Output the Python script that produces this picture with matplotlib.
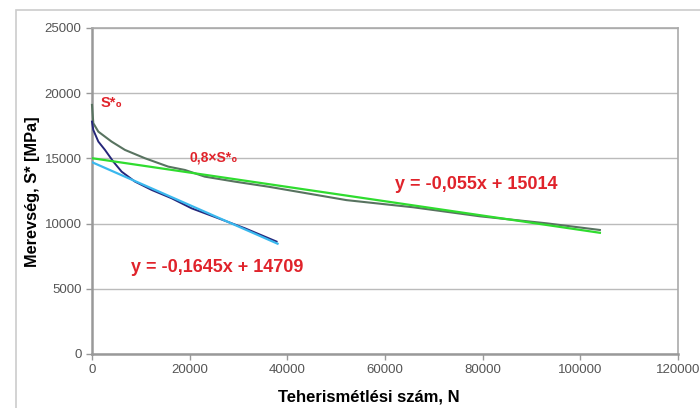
import matplotlib
matplotlib.use('Agg')
import matplotlib.pyplot as plt
from matplotlib.patches import Rectangle
import numpy as np

plt.rcParams['font.family'] = ['Liberation Sans', 'DejaVu Sans']

# measured curve 1 (long test, gray)
n_gray = [0, 270, 1300, 4000, 6750, 10850, 15600, 19040, 23100, 29300, 36100,
          43250, 52100, 65800, 79400, 93100, 104000]
s_gray = [19100, 17700, 17050, 16290, 15650, 15010, 14370, 14110, 13600, 13215,
          12830, 12370, 11800, 11250, 10560, 10020, 9510]

# measured curve 2 (short test, navy)
n_blue = [0, 270, 1300, 2660, 4370, 6080, 8800, 12220, 16310, 20400, 25850, 31320, 37800]
s_blue = [17820, 17180, 16290, 15650, 14750, 13980, 13220, 12580, 11940, 11170,
          10410, 9640, 8620]

# linear trend lines
fit_gray = (-0.055, 15014, 104000)
fit_blue = (-0.1645, 14709, 38000)

yticks = [0, 5000, 10000, 15000, 20000, 25000]
xticks = [0, 20000, 40000, 60000, 80000, 100000, 120000]

fig = plt.figure(figsize=(7, 4.08), dpi=100)
ax = fig.add_axes([0.1314, 0.1324, 0.8372, 0.799])

# outer chart frame
fig.patches.append(Rectangle((16/700, -0.1), 1.0, 1 - 10/408 + 0.1,
                             transform=fig.transFigure, fill=False,
                             edgecolor='#cccccc', lw=1.2, clip_on=False))

ax.grid(axis='y', color='#bbbbbb', lw=1)
ax.set_axisbelow(True)

ax.plot(n_gray, s_gray, color='#587360', lw=1.5, zorder=3, clip_on=False)
ax.plot(n_blue, s_blue, color='#25267a', lw=1.4, zorder=3, clip_on=False)

xg = np.array([0, fit_gray[2]])
ax.plot(xg, fit_gray[0]*xg + fit_gray[1], color='#2fdc2f', lw=1.6, zorder=3)
xb = np.array([0, fit_blue[2]])
ax.plot(xb, fit_blue[0]*xb + fit_blue[1], color='#3ab8ee', lw=1.6, zorder=3)

red = '#e0232b'
ax.text(1700, 19250, 'S*₀', color=red, fontsize=10.5, fontweight='bold', va='center')
ax.text(20000, 15050, '0,8×S*₀', color=red, fontsize=10, fontweight='bold', va='center')
ax.text(62000, 13000, 'y = -0,055x + 15014', color=red, fontsize=13, fontweight='bold', va='center')
ax.text(8000, 6600, 'y = -0,1645x + 14709', color=red, fontsize=13, fontweight='bold', va='center')

ax.set_xlim(0, 120000)
ax.set_ylim(0, 25000)
ax.set_xticks(xticks)
ax.set_yticks(yticks)
ax.tick_params(labelsize=9.5, colors='#999999', labelcolor='#555555', length=4, width=1)

for side in ['left', 'bottom']:
    ax.spines[side].set_color('#999999')
    ax.spines[side].set_linewidth(1.8)
for side in ['top', 'right']:
    ax.spines[side].set_color('#aaaaaa')
    ax.spines[side].set_linewidth(1.2)

ax.set_xlabel('Teherismétlési szám, N', fontsize=12, fontweight='bold')
ax.xaxis.set_label_coords(0.473, -0.11)
ax.set_ylabel('Merevség, S* [MPa]', fontsize=11.8, fontweight='bold')
ax.yaxis.set_label_coords(-0.088, 0.497)

fig.savefig('out.png', dpi=100)
